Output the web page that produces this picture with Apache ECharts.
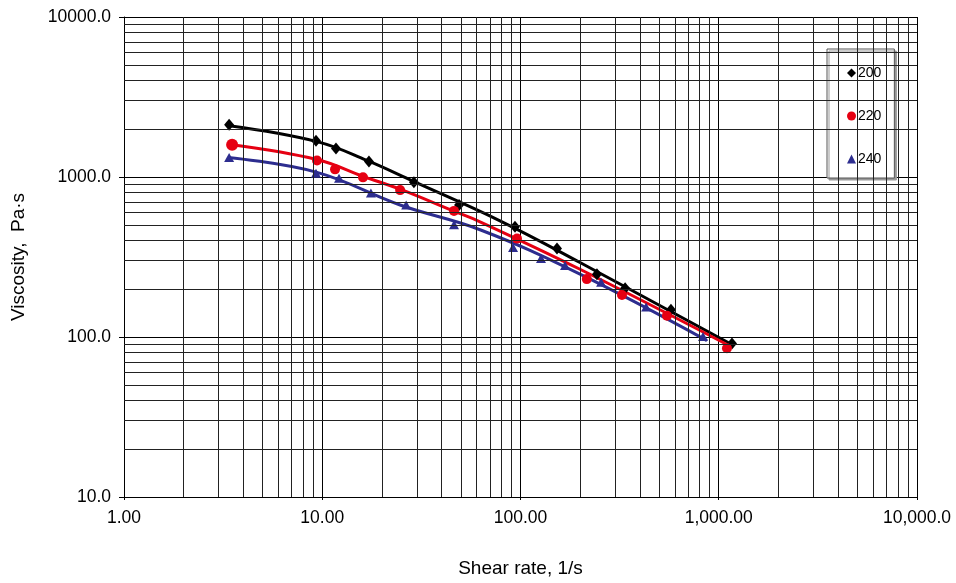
<!DOCTYPE html>
<html>
<head>
<meta charset="utf-8">
<script src="https://cdn.jsdelivr.net/npm/echarts@6/dist/echarts.min.js"></script>
<style>
  html, body { margin: 0; padding: 0; background: #fff; }
  #chart { width: 956px; height: 583px; }
</style>
</head>
<body>
<div id="chart"></div>
<script>
// Viscosity vs shear rate at three temperatures (log-log), markers = measured, lines = fit
const xTickLabels = ['1.00', '10.00', '100.00', '1,000.00', '10,000.0']
const yTickLabels = ['10.0', '100.0', '1000.0', '10000.0']

// measured points [shear rate, viscosity]
const pts200 = [[3.39, 2118], [9.30, 1686], [11.73, 1505], [17.2, 1250], [29.0, 927], [49.0, 668],
  [93.8, 489], [152.8, 357], [243, 247], [337, 202], [574, 148], [1166, 91]]
const pts220 = [[3.51, 1593], [9.41, 1269], [11.6, 1116], [16.05, 995], [24.7, 828], [46.2, 614],
  [96.0, 412], [216, 230], [325, 183], [548, 136], [1100, 85]]
const pts240 = [[3.39, 1324], [9.30, 1054], [12.15, 982], [17.6, 793], [26.5, 668], [46.2, 503],
  [91.7, 362], [126.9, 310], [167.7, 280], [255, 220], [430, 154], [833, 100.6]]

// fitted curves
const fit200 = [[3.39, 2089], [9.41, 1663], [16.8, 1269], [28.7, 941], [78.8, 532], [199.6, 292], [1139, 91]]
const fit220 = [[3.51, 1593], [9.41, 1287], [16.05, 1010], [24.7, 839], [45.7, 614], [62.5, 525], [199.6, 265], [1100, 89.8]]
const fit240 = [[3.35, 1324], [9.41, 1069], [24.7, 668], [62.5, 468], [199.6, 247], [872, 95]]

const BLACK = '#000000'
const RED = '#e60012'
const BLUE = '#2d2d8f'

// minor log grid lines (2..9 in every decade)
const minorX = []
for (const d of [1, 10, 100, 1000]) for (let k = 2; k <= 9; k++) minorX.push({ xAxis: k * d })
const minorY = []
for (const d of [10, 100, 1000]) for (let k = 2; k <= 9; k++) minorY.push({ yAxis: k * d })

const chart = echarts.init(document.getElementById('chart'), null, { renderer: 'canvas' })

const fitLine = (name, data, color) => ({
  name, type: 'line', data, smooth: 0.4, showSymbol: false, symbol: 'none',
  lineStyle: { color, width: 3 }, z: 3, animation: false, silent: true,
})

chart.setOption({
  backgroundColor: '#fff',
  textStyle: { fontFamily: 'Liberation Sans, Arial, sans-serif' },
  grid: { left: 124, right: 39, top: 17, bottom: 81 },
  legend: {
    data: ['200', '220', '240'],
    orient: 'vertical',
    left: 827, top: 49,
    padding: [17, 13, 12, 20],
    itemGap: 29,
    itemWidth: 9, itemHeight: 9,
    backgroundColor: '#fff',
    borderColor: '#555', borderWidth: 1,
    shadowColor: '#999', shadowOffsetX: 2, shadowOffsetY: 2, shadowBlur: 0,
    textStyle: { color: '#000', fontSize: 14, fontFamily: 'Liberation Sans, Arial', padding: [0, 0, 0, -3] },
    selectedMode: false,
  },
  xAxis: {
    type: 'log', logBase: 10, min: 1, max: 10000,
    name: 'Shear rate, 1/s', nameLocation: 'middle', nameGap: 62,
    nameTextStyle: { color: '#000', fontSize: 19, fontFamily: 'Liberation Sans, Arial' },
    axisLine: { lineStyle: { color: '#000', width: 1 } },
    axisTick: { show: true, length: 3, lineStyle: { color: '#000' } },
    axisLabel: {
      color: '#000', fontSize: 17.5, margin: 12, fontFamily: 'Liberation Sans, Arial',
      formatter: v => xTickLabels[Math.round(Math.log10(v))],
    },
    splitLine: { show: true, lineStyle: { color: '#000', width: 1 } },
  },
  yAxis: {
    type: 'log', logBase: 10, min: 10, max: 10000,
    name: 'Viscosity,  Pa·s', nameLocation: 'middle', nameGap: 96,
    nameTextStyle: { color: '#000', fontSize: 19, fontFamily: 'Liberation Sans, Arial' },
    axisLine: { lineStyle: { color: '#000', width: 1 } },
    axisTick: { show: true, length: 5, lineStyle: { color: '#000' } },
    axisLabel: {
      color: '#000', fontSize: 17.5, margin: 13, fontFamily: 'Liberation Sans, Arial',
      formatter: v => yTickLabels[Math.round(Math.log10(v)) - 1],
    },
    splitLine: { show: true, lineStyle: { color: '#000', width: 1 } },
  },
  series: [
    {
      name: 'grid', type: 'line', data: [], silent: true, animation: false,
      markLine: {
        silent: true, symbol: 'none', animation: false,
        label: { show: false },
        lineStyle: { color: '#222', width: 1, type: 'solid' },
        data: minorX.concat(minorY),
      },
    },
    fitLine('fit200', fit200, BLACK),
    fitLine('fit220', fit220, RED),
    fitLine('fit240', fit240, BLUE),
    {
      name: '200', type: 'scatter', data: pts200, symbol: 'diamond', symbolSize: [10, 12],
      itemStyle: { color: BLACK, opacity: 1 }, z: 4, animation: false,
    },
    {
      name: '220', type: 'scatter', data: pts220, symbol: 'circle',
      symbolSize: (v, p) => (p.dataIndex === 0 ? 12 : 10),
      itemStyle: { color: RED, opacity: 1 }, z: 4, animation: false,
    },
    {
      name: '240', type: 'scatter', data: pts240, symbol: 'triangle', symbolSize: [10, 9],
      itemStyle: { color: BLUE, opacity: 1 }, z: 4, animation: false,
    },
  ],
})
</script>
</body>
</html>
